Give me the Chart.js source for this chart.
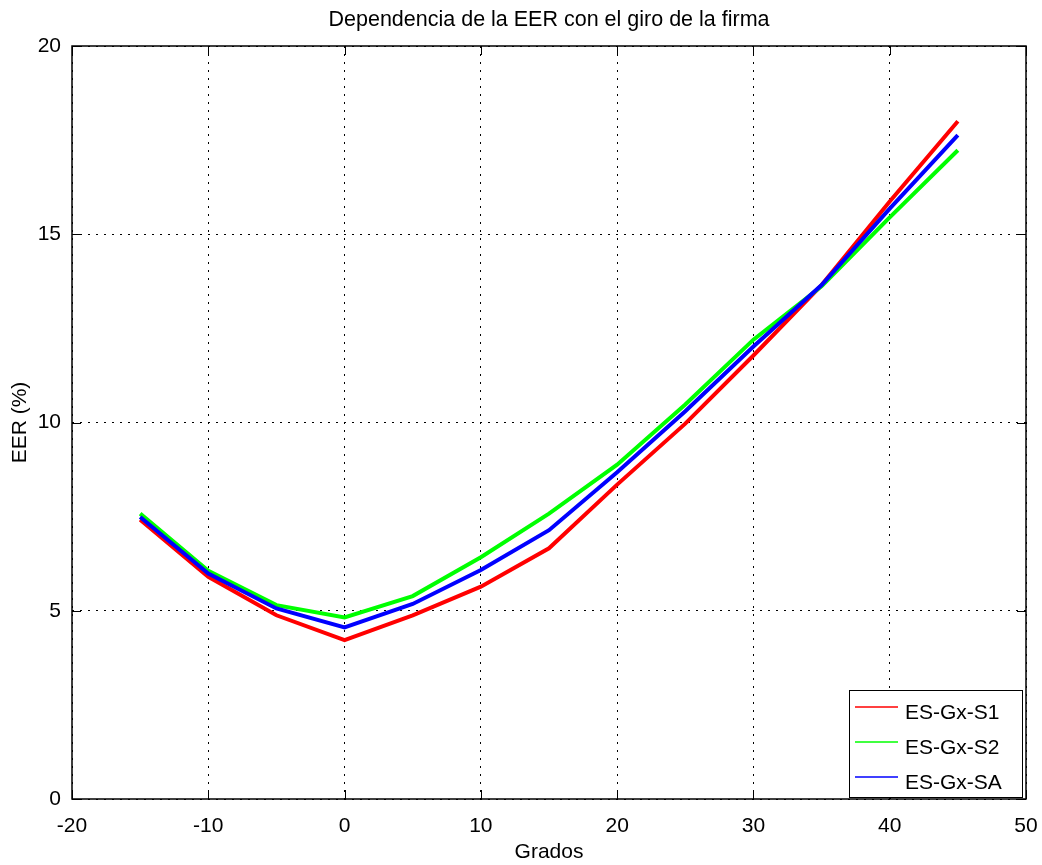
<!DOCTYPE html>
<html>
<head>
<meta charset="utf-8">
<title>Dependencia de la EER con el giro de la firma</title>
<script src="https://cdn.jsdelivr.net/npm/chart.js@4.4.1/dist/chart.umd.min.js"></script>
<style>
  html, body { margin: 0; padding: 0; background: #fff; }
</style>
</head>
<body>
<canvas id="chartEER" width="1042" height="865"></canvas>
<script>
// Datos
const grados = [-15, -10, -5, 0, 5, 10, 15, 20, 25, 30, 35, 40, 45];
const eerS1 = [7.42, 5.90, 4.88, 4.22, 4.88, 5.64, 6.66, 8.35, 9.97, 11.78, 13.65, 15.87, 18.0];
const eerS2 = [7.58, 6.06, 5.15, 4.82, 5.39, 6.42, 7.58, 8.88, 10.48, 12.2, 13.62, 15.45, 17.23];
const eerSA = [7.49, 5.99, 5.06, 4.56, 5.18, 6.08, 7.14, 8.68, 10.3, 12.02, 13.65, 15.68, 17.63];
const ticksX = [-20, -10, 0, 10, 20, 30, 40, 50];
const ticksY = [0, 5, 10, 15, 20];
const titulo = "Dependencia de la EER con el giro de la firma";

const FUENTE = "'Liberation Sans', Arial, Helvetica, sans-serif";

const serie = (label, valores, color, orden) => ({
  label,
  data: grados.map((g, i) => ({ x: g, y: valores[i] })),
  borderColor: color,
  backgroundColor: color,
  borderWidth: 4,
  pointRadius: 0,
  tension: 0,
  fill: false,
  order: orden
});

// Titulo centrado sobre el area de dibujo (no sobre todo el canvas)
const tituloPlugin = {
  id: "tituloArea",
  afterDraw(chart) {
    const ctx = chart.ctx;
    const a = chart.chartArea;
    ctx.save();
    ctx.font = "21.5px " + FUENTE;
    ctx.fillStyle = "#000";
    ctx.textAlign = "center";
    ctx.textBaseline = "alphabetic";
    ctx.fillText(titulo, (a.left + a.right) / 2, 26);
    ctx.restore();
  }
};

// Marco negro con marcas hacia dentro
const marcoPlugin = {
  id: "marco",
  afterDatasetsDraw(chart) {
    const ctx = chart.ctx;
    const a = chart.chartArea;
    const sx = chart.scales.x, sy = chart.scales.y;
    ctx.save();
    ctx.strokeStyle = "#000";
    ctx.lineWidth = 1.5;
    ctx.strokeRect(a.left, a.top, a.right - a.left, a.bottom - a.top);
    ctx.beginPath();
    ticksX.forEach(v => {
      const px = Math.round(sx.getPixelForValue(v)) + 0.5;
      ctx.moveTo(px, a.bottom); ctx.lineTo(px, a.bottom - 9);
      ctx.moveTo(px, a.top); ctx.lineTo(px, a.top + 9);
    });
    ticksY.forEach(v => {
      const py = Math.round(sy.getPixelForValue(v)) + 0.5;
      ctx.moveTo(a.left, py); ctx.lineTo(a.left + 9, py);
      ctx.moveTo(a.right, py); ctx.lineTo(a.right - 9, py);
    });
    ctx.lineWidth = 1;
    ctx.stroke();
    ctx.restore();
  }
};

// Leyenda dentro del area, abajo a la derecha
const leyendaPlugin = {
  id: "leyenda",
  afterDraw(chart) {
    const ctx = chart.ctx;
    const a = chart.chartArea;
    const bx = a.right - 177, by = a.bottom - 109, bw = 173, bh = 107;
    ctx.save();
    ctx.fillStyle = "#fff";
    ctx.fillRect(bx, by, bw, bh);
    ctx.strokeStyle = "#000";
    ctx.lineWidth = 1;
    ctx.strokeRect(Math.round(bx) + 0.5, Math.round(by) + 0.5, bw, bh);
    ctx.font = "21px " + FUENTE;
    ctx.textAlign = "left";
    ctx.textBaseline = "alphabetic";
    chart.data.datasets.forEach((ds, i) => {
      const y = by + 17 + i * 35;
      ctx.strokeStyle = ds.borderColor;
      ctx.lineWidth = 1.5;
      ctx.beginPath();
      ctx.moveTo(bx + 6, y);
      ctx.lineTo(bx + 49, y);
      ctx.stroke();
      ctx.fillStyle = "#000";
      ctx.fillText(ds.label, bx + 56, y + 12);
    });
    ctx.restore();
  }
};

new Chart(document.getElementById("chartEER"), {
  type: "line",
  data: {
    datasets: [
      serie("ES-Gx-S1", eerS1, "#ff0000", 3),
      serie("ES-Gx-S2", eerS2, "#00ff00", 2),
      serie("ES-Gx-SA", eerSA, "#0000ff", 1)
    ]
  },
  options: {
    responsive: false,
    animation: false,
    devicePixelRatio: 1,
    layout: { padding: { top: 46, right: 16, bottom: 0, left: 0 } },
    plugins: {
      legend: { display: false },
      tooltip: { enabled: false },
      title: { display: false }
    },
    scales: {
      x: {
        type: "linear",
        min: -20,
        max: 50,
        afterBuildTicks: s => { s.ticks = ticksX.map(v => ({ value: v })); },
        afterFit: s => { s.height = 66; s.paddingLeft = 0; s.paddingRight = 0; },
        grid: { color: "#000", lineWidth: 1, drawTicks: false },
        border: { display: false, dash: [2, 6] },
        ticks: { color: "#000", padding: 15, font: { family: FUENTE, size: 21 } },
        title: {
          display: true, text: "Grados", color: "#000",
          font: { family: FUENTE, size: 21, lineHeight: 1.2 },
          padding: { top: 0, bottom: 0 }
        }
      },
      y: {
        type: "linear",
        min: 0,
        max: 20,
        afterBuildTicks: s => { s.ticks = ticksY.map(v => ({ value: v })); },
        afterFit: s => { s.width = 72; s.paddingTop = 0; s.paddingBottom = 0; },
        grid: { color: "#000", lineWidth: 1, drawTicks: false },
        border: { display: false, dash: [2, 6] },
        ticks: { color: "#000", padding: 11, font: { family: FUENTE, size: 21 } },
        title: {
          display: true, text: "EER (%)", color: "#000",
          font: { family: FUENTE, size: 21, lineHeight: 1.2 },
          padding: { top: 8, bottom: 0 }
        }
      }
    }
  },
  plugins: [marcoPlugin, leyendaPlugin, tituloPlugin]
});
</script>
</body>
</html>
